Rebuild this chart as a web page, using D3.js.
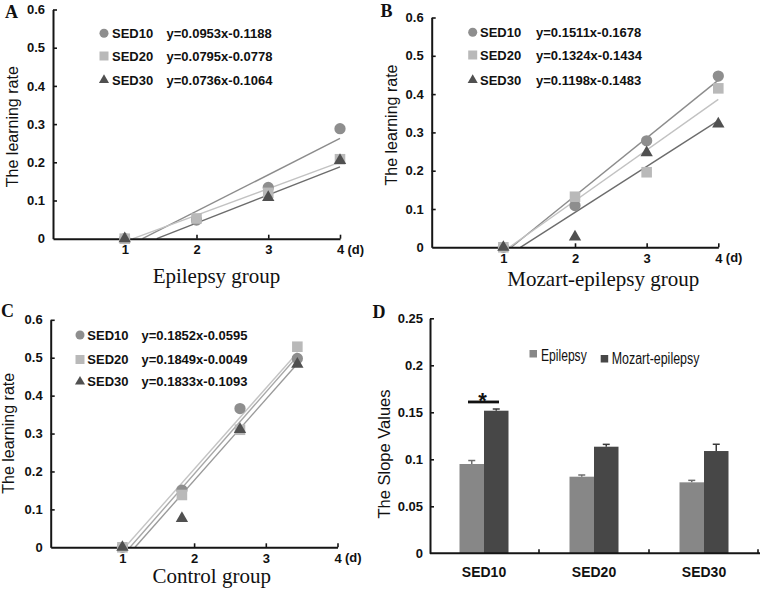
<!DOCTYPE html>
<html>
<head>
<meta charset="utf-8">
<script src="https://cdn.jsdelivr.net/npm/d3@7"></script>
<style>
  html, body { margin: 0; padding: 0; background: #fff; }
  svg { display: block; }
</style>
</head>
<body>
<svg id="chart" width="761" height="599"></svg>
<script>
// ---------------- DATA ----------------
const seriesNames = ["SED10", "SED20", "SED30"];
const dayTicks = [1, 2, 3, 4];
const rateTicks = [0, 0.1, 0.2, 0.3, 0.4, 0.5, 0.6];

// Panel A: Epilepsy group
const epilepsyDays = [1, 2, 3, 4];
const epilepsySED10 = [0, 0.049, 0.134, 0.288];
const epilepsySED20 = [0, 0.053, 0.120, 0.208];
const epilepsySED30 = [0, null, 0.108, 0.205];
const epilepsyEquations = ["y=0.0953x-0.1188", "y=0.0795x-0.0778", "y=0.0736x-0.1064"];
const epilepsyTrend = [[0.0953, -0.1188], [0.0695, -0.0775], [0.0736, -0.1064]];

// Panel B: Mozart-epilepsy group
const mozartDays = [1, 2, 3, 4];
const mozartSED10 = [0, 0.109, 0.278, 0.447];
const mozartSED20 = [0, 0.132, 0.196, 0.415];
const mozartSED30 = [0, 0.027, 0.247, 0.322];
const mozartEquations = ["y=0.1511x-0.1678", "y=0.1324x-0.1434", "y=0.1198x-0.1483"];
const mozartTrend = [[0.1511, -0.1678], [0.1324, -0.1434], [0.1198, -0.1483]];

// Panel C: Control group
const controlDays = [1, 1.83, 2.64, 3.44];
const controlSED10 = [0, 0.151, 0.366, 0.498];
const controlSED20 = [0, 0.138, 0.310, 0.529];
const controlSED30 = [0, 0.076, 0.311, 0.483];
const controlEquations = ["y=0.1852x-0.0595", "y=0.1849x-0.0049", "y=0.1833x-0.1093"];
const controlTrend = [[0.2160, -0.2390], [0.2135, -0.2212], [0.2138, -0.2514]];

// Panel D: slope values
const slopeGroups = ["SED10", "SED20", "SED30"];
const slopeSeries = ["Epilepsy", "Mozart-epilepsy"];
const epilepsySlope = [0.095, 0.0815, 0.0755];
const epilepsySlopeErr = [0.0037, 0.0018, 0.0021];
const mozartSlope = [0.1517, 0.1134, 0.1088];
const mozartSlopeErr = [0.0018, 0.0025, 0.0072];
const slopeTicks = [0, 0.05, 0.1, 0.15, 0.2, 0.25];
const sigGroup = "SED10";
const sigLevel = 0.161;

// ---------------- STYLE ----------------
const SANS = "'Liberation Sans', Arial, Helvetica, sans-serif";
const SERIF = "'Liberation Serif', 'Times New Roman', serif";
const markerFill = ["#8e8e8e", "#b9b9b9", "#505050"];
const lineColor = ["#8c8c8c", "#c2c2c2", "#6c6c6c"];
const controlLineColor = ["#a8a8a8", "#c4c4c4", "#9a9a9a"];
const symbols = [d3.symbolCircle, d3.symbolSquare, d3.symbolTriangle];
const pointSize = [100, 112, 66];
const legendSize = [64, 81, 44];
const axisColor = "#151515";

const svg = d3.select("#chart");
const fmt = d3.format("~g");

function styleAxis(g) {
  g.select(".domain").attr("stroke", axisColor).attr("stroke-width", 2);
  g.selectAll(".tick line").attr("stroke", axisColor).attr("stroke-width", 1.6);
  g.selectAll(".tick text").attr("fill", "#111").attr("font-family", SANS)
    .attr("font-size", 13).attr("font-weight", "bold");
}

function scatterPanel(cfg) {
  const x = d3.scaleLinear().domain([0, 4]).range(cfg.xr);
  const y = d3.scaleLinear().domain([0, 0.6]).range(cfg.yr);
  const g = svg.append("g");

  // trend lines
  cfg.trend.forEach((t, i) => {
    const xs = cfg.days;
    const x0 = Math.max(xs[0], -t[1] / t[0]);
    const x1 = xs[xs.length - 1];
    g.append("line")
      .attr("x1", x(x0)).attr("y1", y(t[0] * x0 + t[1]))
      .attr("x2", x(x1)).attr("y2", y(t[0] * x1 + t[1]))
      .attr("stroke", cfg.lineColors[i]).attr("stroke-width", 1.4);
  });

  // axes
  const gx = g.append("g").attr("transform", `translate(0,${cfg.yr[0]})`)
    .call(d3.axisBottom(x).tickValues(dayTicks).tickSize(-4).tickSizeOuter(0).tickPadding(6).tickFormat(fmt));
  styleAxis(gx);
  const gy = g.append("g").attr("transform", `translate(${cfg.xr[0]},0)`)
    .call(d3.axisLeft(y).tickValues(rateTicks).tickSize(-4).tickSizeOuter(0).tickPadding(8).tickFormat(fmt));
  styleAxis(gy);
  gy.selectAll(".tick").filter(d => d === 0).select("line").remove();

  // points
  cfg.series.forEach((vals, i) => {
    vals.forEach((v, j) => {
      if (v === null) return;
      g.append("path")
        .attr("d", d3.symbol().type(symbols[i]).size(pointSize[i])())
        .attr("transform", `translate(${x(cfg.days[j])},${y(v)})`)
        .attr("fill", markerFill[i]);
    });
  });

  // "(d)" unit
  g.append("text").attr("x", x(4) + 7.5).attr("y", cfg.yr[0] + 15)
    .attr("font-family", SANS).attr("font-size", 13).attr("font-weight", "bold")
    .attr("fill", "#111").text("(d)");

  // y label
  g.append("text").attr("transform", `translate(${cfg.ylab[0]},${cfg.ylab[1]}) rotate(-90)`)
    .attr("text-anchor", "middle").attr("font-family", SANS).attr("font-size", 16)
    .attr("fill", "#111").text("The learning rate");

  // x label
  g.append("text").attr("x", cfg.xlab[0]).attr("y", cfg.xlab[1])
    .attr("text-anchor", "middle").attr("font-family", SERIF).attr("font-size", 21)
    .attr("fill", "#111").text(cfg.title);

  // panel letter
  g.append("text").attr("x", cfg.letter[0]).attr("y", cfg.letter[1])
    .attr("font-family", SERIF).attr("font-size", 18).attr("font-weight", "bold")
    .attr("fill", "#111").text(cfg.letterText);

  // legend
  const L = cfg.legend;
  seriesNames.forEach((name, i) => {
    const yy = L.rows[i];
    g.append("path")
      .attr("d", d3.symbol().type(symbols[i]).size(legendSize[i])())
      .attr("transform", `translate(${L.mx},${yy})`)
      .attr("fill", markerFill[i]);
    g.append("text").attr("x", L.tx).attr("y", yy + 4.6)
      .attr("font-family", SANS).attr("font-size", 13).attr("font-weight", "bold")
      .attr("fill", "#111").text(name);
    g.append("text").attr("x", L.ex).attr("y", yy + 4.6)
      .attr("font-family", SANS).attr("font-size", 13).attr("font-weight", "bold")
      .attr("fill", "#111").text(cfg.equations[i]);
  });
}

scatterPanel({
  days: epilepsyDays, series: [epilepsySED10, epilepsySED20, epilepsySED30],
  trend: epilepsyTrend, equations: epilepsyEquations, lineColors: lineColor,
  xr: [53, 340], yr: [238.7, 9.5], title: "Epilepsy group", xlab: [216.5, 283],
  ylab: [18, 126.7], letter: [5, 18], letterText: "A",
  legend: { mx: 104, tx: 112, ex: 166.5, rows: [33.3, 56, 80] }
});

scatterPanel({
  days: mozartDays, series: [mozartSED10, mozartSED20, mozartSED30],
  trend: mozartTrend, equations: mozartEquations, lineColors: lineColor,
  xr: [431.7, 718.3], yr: [247.3, 17.5], title: "Mozart-epilepsy group", xlab: [603.3, 285.5],
  ylab: [397, 125], letter: [380.5, 17], letterText: "B",
  legend: { mx: 472.7, tx: 480, ex: 536, rows: [32.3, 55, 80] }
});

scatterPanel({
  days: controlDays, series: [controlSED10, controlSED20, controlSED30],
  trend: controlTrend, equations: controlEquations, lineColors: controlLineColor,
  xr: [50.7, 337.5], yr: [547.3, 319.8], title: "Control group", xlab: [211.7, 583],
  ylab: [14, 433.3], letter: [1, 317], letterText: "C",
  legend: { mx: 80, tx: 87.3, ex: 141.5, rows: [335, 359.5, 381.7] }
});

// ---------------- PANEL D ----------------
(function () {
  const x = d3.scaleBand().domain(slopeGroups).range([429, 759]);
  const xi = d3.scaleBand().domain(slopeSeries).range([0, 49]);
  const y = d3.scaleLinear().domain([0, 0.25]).range([553.3, 318.3]);
  const g = svg.append("g");
  const barColor = ["#878787", "#474747"];
  const errColor = ["#6e6e6e", "#3a3a3a"];
  const vals = [epilepsySlope, mozartSlope];
  const errs = [epilepsySlopeErr, mozartSlopeErr];

  slopeSeries.forEach((s, si) => {
    slopeGroups.forEach((grp, gi) => {
      const x0 = x(grp) + x.bandwidth() / 2 - 24.5 + xi(s);
      const v = vals[si][gi], e = errs[si][gi];
      const cx = x0 + xi.bandwidth() / 2;
      g.append("line").attr("x1", cx).attr("x2", cx).attr("y1", y(v)).attr("y2", y(v + e))
        .attr("stroke", errColor[si]).attr("stroke-width", 1.5);
      g.append("line").attr("x1", cx - 3.5).attr("x2", cx + 3.5).attr("y1", y(v + e)).attr("y2", y(v + e))
        .attr("stroke", errColor[si]).attr("stroke-width", 1.5);
      g.append("rect").attr("x", x0).attr("width", xi.bandwidth())
        .attr("y", y(v)).attr("height", y(0) - y(v)).attr("fill", barColor[si]);
    });
  });

  // axes
  const gx = g.append("g").attr("transform", `translate(0,${y(0)})`)
    .call(d3.axisBottom(x).tickSize(0).tickPadding(14));
  styleAxis(gx);
  gx.selectAll(".tick text").attr("font-size", 14);
  gx.select(".domain").attr("d", `M430,0H760`);
  slopeGroups.slice(1).concat([null]).forEach((grp) => {
    const bx = grp ? x(grp) : x.range()[1] - 1;
    gx.append("line").attr("x1", bx).attr("x2", bx).attr("y1", 0).attr("y2", -4)
      .attr("stroke", axisColor).attr("stroke-width", 1.6);
  });
  const gy = g.append("g").attr("transform", "translate(430,0)")
    .call(d3.axisLeft(y).tickValues(slopeTicks).tickSize(-4).tickSizeOuter(0).tickPadding(7).tickFormat(fmt));
  styleAxis(gy);
  gy.selectAll(".tick").filter(d => d === 0).select("line").remove();

  // significance
  const sx = x(sigGroup) + x.bandwidth() / 2;
  g.append("line").attr("x1", sx - 16).attr("x2", sx + 15).attr("y1", y(sigLevel)).attr("y2", y(sigLevel))
    .attr("stroke", "#111").attr("stroke-width", 2.8);
  g.append("text").attr("x", sx - 1.5).attr("y", y(sigLevel) + 6).attr("text-anchor", "middle")
    .attr("font-family", SANS).attr("font-size", 22).attr("font-weight", "bold").attr("fill", "#111").text("*");

  // legend
  const leg = [{ x: 529.5, y: 350, tx: 541, ty: 360.5, w: 45.7 }, { x: 600.7, y: 355, tx: 611.7, ty: 364, w: 87.7 }];
  slopeSeries.forEach((s, i) => {
    g.append("rect").attr("x", leg[i].x).attr("y", leg[i].y).attr("width", 7.5).attr("height", 7.5)
      .attr("fill", barColor[i]);
    g.append("text").attr("x", leg[i].tx).attr("y", leg[i].ty)
      .attr("font-family", SANS).attr("font-size", 16).attr("fill", "#111")
      .attr("textLength", leg[i].w).attr("lengthAdjust", "spacingAndGlyphs").text(s);
  });

  // y label
  g.append("text").attr("transform", "translate(390,454) rotate(-90)")
    .attr("text-anchor", "middle").attr("font-family", SANS).attr("font-size", 16.5)
    .attr("fill", "#111").text("The Slope Values");

  // letter
  g.append("text").attr("x", 372.5).attr("y", 318)
    .attr("font-family", SERIF).attr("font-size", 18).attr("font-weight", "bold")
    .attr("fill", "#111").text("D");
})();
</script>
</body>
</html>
